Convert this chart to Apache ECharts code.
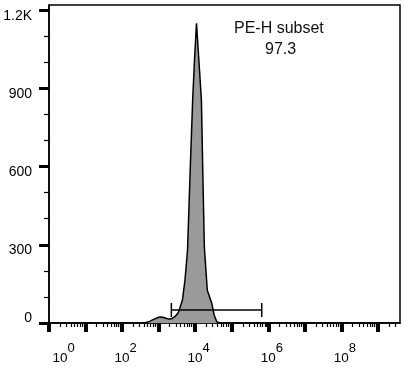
<!DOCTYPE html>
<html><head><meta charset="utf-8">
<script src="https://cdn.jsdelivr.net/npm/echarts@6/dist/echarts.min.js"></script>
<style>html,body{margin:0;padding:0;background:#fff}#c{width:404px;height:369px}</style>
</head><body><div id="c"></div>
<script>
// Histogram (PE-H, log scale) : x = channel value, y = count
const xValues = [1, 316, 398, 562, 759, 1000, 1202, 1514, 1862, 2239, 2818, 3467, 4467, 5248, 6166, 7244, 8511, 9550, 10839, 12589, 14791, 16218, 17783, 21380, 28184, 33113, 38905, 47863, 4e9];
const counts  = [0,   0,   0,   6,  15,   22,   23,   19,   15,   16,   25,   40,   88,  165,  280,  575,  854, 1008, 1150, 1008,   854,   560,   290,   126,    77,    30,     5,     0,   0];

// Gate
const gateLow = 2225, gateHigh = 660000, gateLevel = 50, gateCapLow = 23, gateCapHigh = 77;
const gateName = 'PE-H subset';
const gatePercent = '97.3';

// Axes
const xMin = 1, xMax = 4e9;
const xMajorExps = [0, 1, 2, 3, 4, 5, 6, 7, 8, 9];
const xLabelExps = [0, 2, 4, 6, 8];
const xMinorMultipliers = [2, 3, 4, 5, 6, 7, 8, 9];
const yMax = 1220;
const yTicks = [0, 300, 600, 900, 1200];
const yTickLabels = ['0', '300', '600', '900', '1.2K'];
const yMinorTicks = [100, 200, 400, 500, 700, 800, 1000, 1100];

const xMinorExps = [];
xMajorExps.forEach(e => xMinorMultipliers.forEach(m => {
  const v = Math.log10(m) + e;
  if (v < Math.log10(xMax)) xMinorExps.push(v);
}));

const FONT = '"Liberation Sans", Arial, sans-serif';
const logMax = Math.log10(xMax);
const grid = { left: 49, right: 4, top: 5, bottom: 46, show: true, borderColor: '#000', borderWidth: 1.5, backgroundColor: '#fff' };

const chart = echarts.init(document.getElementById('c'), null, { renderer: 'canvas' });
chart.setOption({
  animation: false,
  grid: grid,
  xAxis: [
    { type: 'log', logBase: 10, min: xMin, max: xMax, show: false },
    { type: 'value', min: 0, max: logMax, position: 'bottom',
      axisLine: { show: true, onZero: false, lineStyle: { color: '#222', width: 2 } },
      splitLine: { show: false },
      axisTick: { show: true, customValues: xMajorExps, length: 9, lineStyle: { color: '#000', width: 4 } },
      axisLabel: { show: true, customValues: xLabelExps, margin: 19, fontFamily: FONT,
        formatter: v => (v === 0 ? '{q|}' : '{p|}') + '{b|10}{e|' + v + '}',
        rich: {
          p: { width: 7, height: 23 },
          q: { width: 29, height: 23 },
          b: { fontSize: 13.5, fontFamily: FONT, color: '#000', lineHeight: 23, verticalAlign: 'bottom' },
          e: { fontSize: 13, fontFamily: FONT, color: '#000', lineHeight: 23, verticalAlign: 'top' }
        } } },
    { type: 'value', min: 0, max: logMax, position: 'bottom',
      axisLine: { show: false, onZero: false }, splitLine: { show: false },
      axisTick: { show: true, customValues: xMinorExps, length: 4, lineStyle: { color: '#000', width: 1.2 } },
      axisLabel: { show: false } }
  ],
  yAxis: [
    { type: 'value', min: 0, max: yMax,
      axisLine: { show: true, onZero: false, lineStyle: { color: '#000', width: 1.5 } },
      splitLine: { show: false },
      axisTick: { show: true, customValues: yTicks, length: 10, lineStyle: { color: '#000', width: 3 } },
      axisLabel: { show: true, customValues: yTicks, margin: 17, fontFamily: FONT, fontSize: 14, color: '#000',
        formatter: v => { const t = yTickLabels[yTicks.indexOf(v)]; return v === 0 ? '{z|' + t + '}' : '{n|' + t + '}'; },
        rich: {
          n: { fontSize: 14, fontFamily: FONT, color: '#000', padding: [11, 0, 0, 0] },
          z: { fontSize: 14, fontFamily: FONT, color: '#000', padding: [0, 0, 9, 0] }
        } } },
    { type: 'value', min: 0, max: yMax, position: 'left',
      axisLine: { show: false, onZero: false }, splitLine: { show: false },
      axisTick: { show: true, customValues: yMinorTicks, length: 5, lineStyle: { color: '#000', width: 1.2 } },
      axisLabel: { show: false } }
  ],
  series: [
    { type: 'line', xAxisIndex: 0, yAxisIndex: 0, symbol: 'none', smooth: false,
      data: xValues.map((x, i) => [x, counts[i]]),
      lineStyle: { color: '#000', width: 1.5 }, areaStyle: { color: '#9a9a9a', opacity: 1 }, z: 3 },
    { type: 'line', xAxisIndex: 0, yAxisIndex: 0, symbol: 'none',
      data: [[gateLow, gateLevel], [gateHigh, gateLevel]], lineStyle: { color: '#000', width: 1.5 }, z: 4 },
    { type: 'line', xAxisIndex: 0, yAxisIndex: 0, symbol: 'none',
      data: [[gateLow, gateCapLow], [gateLow, gateCapHigh]], lineStyle: { color: '#000', width: 1.5 }, z: 4 },
    { type: 'line', xAxisIndex: 0, yAxisIndex: 0, symbol: 'none',
      data: [[gateHigh, gateCapLow], [gateHigh, gateCapHigh]], lineStyle: { color: '#000', width: 1.5 }, z: 4 }
  ],
  graphic: [
    { type: 'text', left: 234, top: 21, style: { text: gateName, font: '16px ' + FONT, fill: '#111' } },
    { type: 'text', left: 265, top: 42, style: { text: gatePercent, font: '16px ' + FONT, fill: '#111' } }
  ]
});
</script></body></html>
